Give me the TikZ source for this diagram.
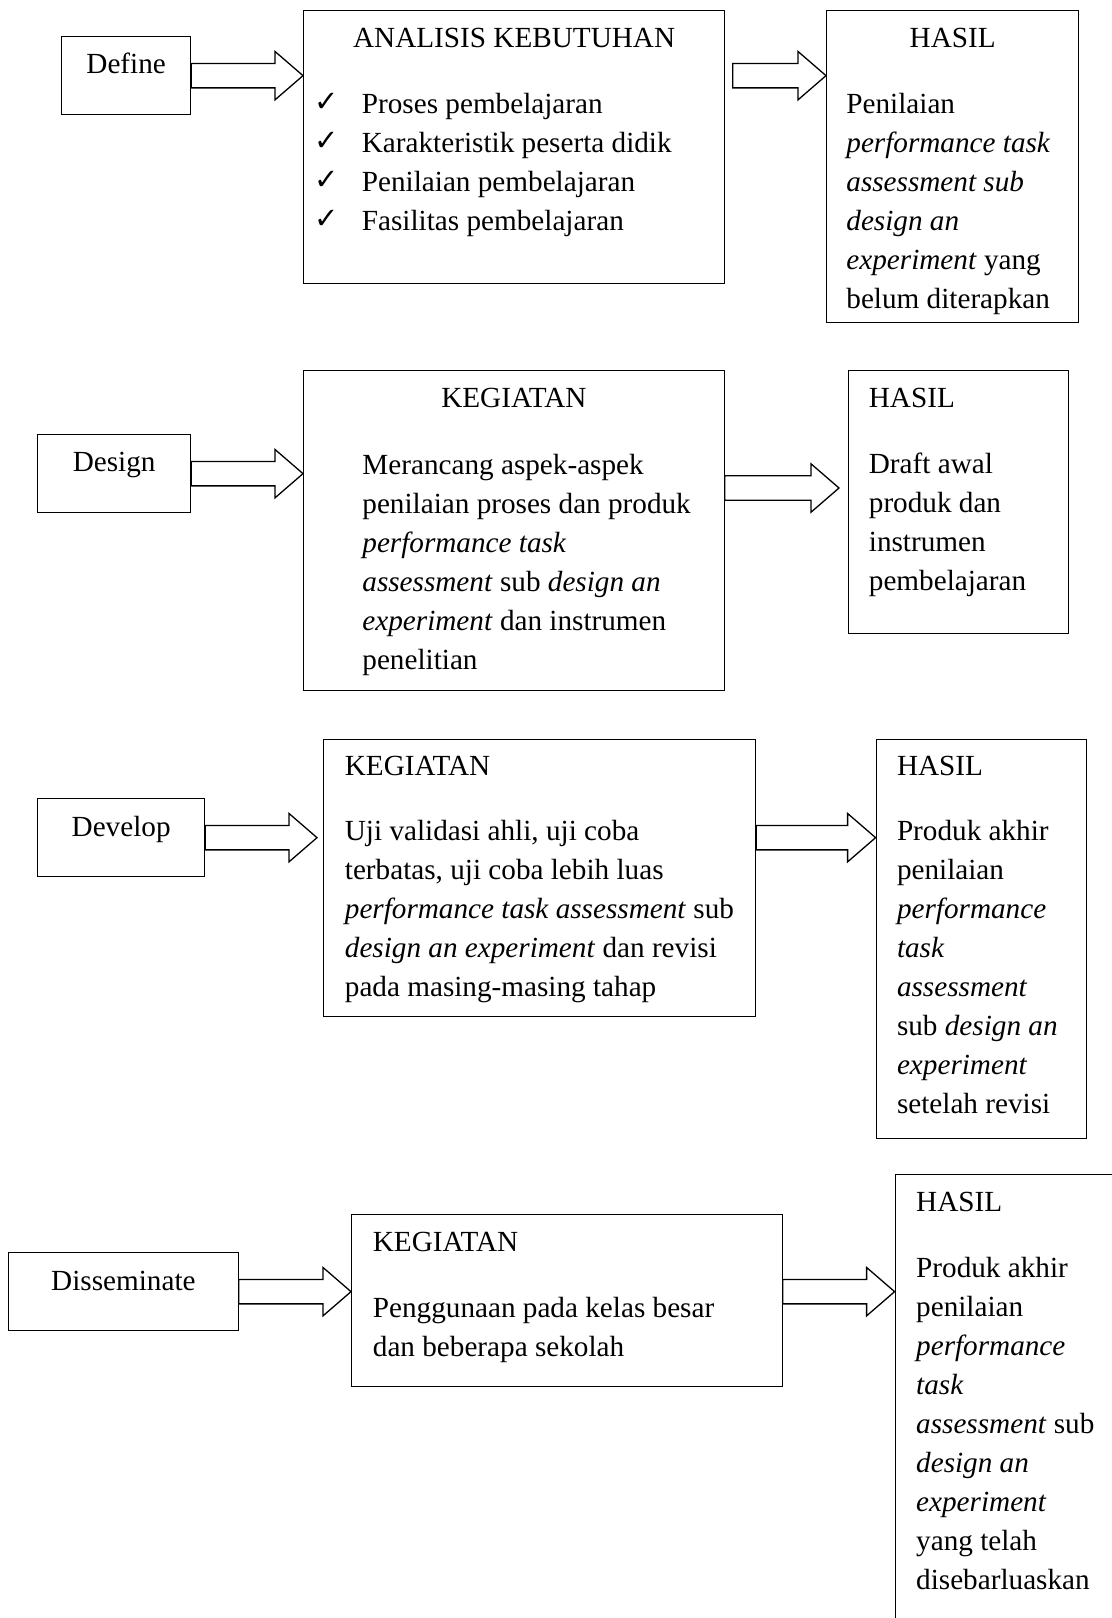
\documentclass[tikz,border=0pt]{standalone}
\usepackage{fontspec}
\setmainfont{Liberation Serif}
\newfontfamily\symfont{DejaVu Sans}
\usetikzlibrary{positioning, calc}

\tikzset{
  box/.style={draw, line width=0.65pt, anchor=north west, inner sep=0pt},
  txt/.style={inner sep=0pt, anchor=base west, font=\fontsize{14.6pt}{19.5pt}\selectfont},
  hdr/.style={txt, anchor=base},
  blockline/.style={line width=0.65pt, line join=miter}
}

\newcommand{\lines}[1]{\begin{tabular}[t]{@{}l@{}}#1\end{tabular}}

\newcommand{\blockarrow}[2]{%
  \draw[blockline] let \p1=#1, \p2=#2 in
    (\x1,\y1+6.1pt) -- (\x2-14pt,\y1+6.1pt) -- (\x2-14pt,\y1+12.1pt) -- (\x2,\y1)
    -- (\x2-14pt,\y1-12.1pt) -- (\x2-14pt,\y1-6.1pt) -- (\x1,\y1-6.1pt) -- cycle;}

\begin{document}
\begin{tikzpicture}[x=0.5pt, y=-0.5pt]
  \useasboundingbox (0,0) rectangle (1112,1618);
  \clip (0,0) rectangle (1112,1618);

  % define
  \node[box, minimum width=64.5pt, minimum height=39pt] (define) at (61,36) {};
  \node[hdr] (define-t) at ($(define.north)+(0,37.5)$) {Define};
  \node[box, minimum width=210.5pt, minimum height=136.25pt] (analisis) at (303,10) {};
  \node[hdr] (analisis-t) at ($(analisis.north)+(0,37)$) {ANALISIS KEBUTUHAN};
  \foreach \txt [count=\i] in {Proses pembelajaran, Karakteristik peserta didik, Penilaian pembelajaran, Fasilitas pembelajaran} {
    \node[txt] (item\i) at ($(analisis.north west)+(58.5,{64.3+39*\i})$) {\txt};
    \node[txt] (check\i) at ($(analisis.north west)+(11,{62.3+39*\i})$) {\symfont\fontsize{14.5pt}{14.5pt}\selectfont ✓};
  }
  \node[box, minimum width=126pt, minimum height=156pt] (hasil1) at (826,10) {};
  \node[hdr] (hasil1-t) at ($(hasil1.north)+(0,37)$) {HASIL};
  \node[txt] (hasil1-b) at ($(hasil1.north west)+(20,103.3)$) {\lines{Penilaian\\ \textit{performance task}\\ \textit{assessment sub}\\ \textit{design an}\\ \textit{experiment} yang\\ belum diterapkan}};
  \blockarrow{(define.east)}{(analisis.west |- define.east)}
  \blockarrow{($(analisis.east |- define.east)+(7.5,0)$)}{(hasil1.west |- define.east)}

  % design
  \node[box, minimum width=76.5pt, minimum height=39pt] (design) at (37,434) {};
  \node[hdr] (design-t) at ($(design.north)+(0,37.7)$) {Design};
  \node[box, minimum width=210.25pt, minimum height=160pt] (kegiatanB) at (303,370) {};
  \node[hdr] (kegiatanB-t) at ($(kegiatanB.north)+(0,37)$) {KEGIATAN};
  \node[txt] (kegiatanB-b) at ($(kegiatanB.north west)+(59,104)$) {\lines{Merancang aspek-aspek\\ penilaian proses dan produk\\ \textit{performance task}\\ \textit{assessment} sub \textit{design an}\\ \textit{experiment} dan instrumen\\ penelitian}};
  \node[box, minimum width=110pt, minimum height=131.5pt] (hasilB) at (848,370) {};
  \node[txt] (hasilB-t) at ($(hasilB.north west)+(20.5,37)$) {HASIL};
  \node[txt] (hasilB-b) at ($(hasilB.north west)+(20.5,103.5)$) {\lines{Draft awal\\ produk dan\\ instrumen\\ pembelajaran}};
  \blockarrow{(design.east)}{(kegiatanB.west |- design.east)}
  \blockarrow{($(kegiatanB.north east)+(0,118)$)}{($(hasilB.north west)+(-9,118)$)}

  % develop
  \node[box, minimum width=83.5pt, minimum height=39pt] (develop) at (37,798) {};
  \node[hdr] (develop-t) at ($(develop.north)+(0,38)$) {Develop};
  \node[box, minimum width=216pt, minimum height=138.75pt] (kegiatanC) at (323,738.5) {};
  \node[txt] (kegiatanC-t) at ($(kegiatanC.north west)+(21.5,37)$) {KEGIATAN};
  \node[txt] (kegiatanC-b) at ($(kegiatanC.north west)+(21.5,102)$) {\lines{Uji validasi ahli, uji coba\\ terbatas, uji coba lebih luas\\ \textit{performance task assessment} sub\\ \textit{design an experiment} dan revisi\\ pada masing-masing tahap}};
  \node[box, minimum width=105.25pt, minimum height=199.75pt] (hasilC) at (875.6,738.5) {};
  \node[txt] (hasilC-t) at ($(hasilC.north west)+(21,37)$) {HASIL};
  \node[txt] (hasilC-b) at ($(hasilC.north west)+(21,102)$) {\lines{Produk akhir\\ penilaian\\ \textit{performance}\\ \textit{task}\\ \textit{assessment}\\ sub \textit{design an}\\ \textit{experiment}\\ setelah revisi}};
  \blockarrow{(develop.east)}{($(kegiatanC.west |- develop.east)+(-6,0)$)}
  \blockarrow{(kegiatanC.east |- develop.east)}{(hasilC.west |- develop.east)}

  % disseminate
  \node[box, minimum width=114.75pt, minimum height=39pt] (disseminate) at (8,1252) {};
  \node[hdr] (disseminate-t) at ($(disseminate.north)+(0,38)$) {Disseminate};
  \node[box, minimum width=215.25pt, minimum height=86pt] (kegiatanD) at (351,1214) {};
  \node[txt] (kegiatanD-t) at ($(kegiatanD.north west)+(21.5,37.5)$) {KEGIATAN};
  \node[txt] (kegiatanD-b) at ($(kegiatanD.north west)+(21.5,103)$) {\lines{Penggunaan pada kelas besar\\ dan beberapa sekolah}};
  \node[box, minimum width=120pt, minimum height=230pt] (hasilD) at (894.6,1174) {};
  \node[txt] (hasilD-t) at ($(hasilD.north west)+(21.2,37.5)$) {HASIL};
  \node[txt] (hasilD-b) at ($(hasilD.north west)+(21.2,103)$) {\lines{Produk akhir\\ penilaian\\ \textit{performance}\\ \textit{task}\\ \textit{assessment} sub\\ \textit{design an}\\ \textit{experiment}\\ yang telah\\ disebarluaskan}};
  \blockarrow{(disseminate.east)}{(kegiatanD.west |- disseminate.east)}
  \blockarrow{(kegiatanD.east |- disseminate.east)}{(hasilD.west |- disseminate.east)}
\end{tikzpicture}
\end{document}
